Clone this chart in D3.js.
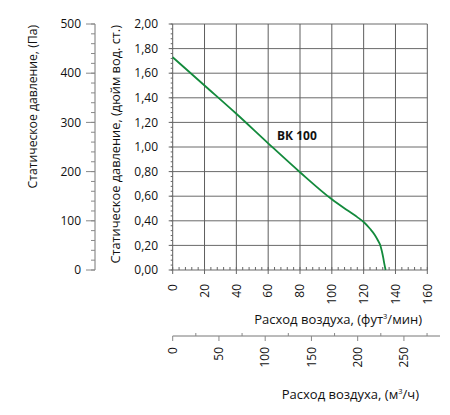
<!DOCTYPE html>
<html>
<head>
<meta charset="utf-8">
<script src="https://cdn.jsdelivr.net/npm/d3@7"></script>
<style>
  body { margin: 0; background: #fff; }
  text { font-family: "Open Sans", "Noto Sans", sans-serif; fill: #111; }
</style>
</head>
<body>
<div id="chart"></div>
<script>
// Curve BK 100: airflow (cfm) vs static pressure (in. wg)
const flowCfm = [0, 20, 40, 60, 80, 100, 110, 116, 120, 124, 127, 129, 130.5, 131.5, 132.3, 133.0, 133.8];
const pressureIn = [1.73, 1.50, 1.27, 1.03, 0.795, 0.575, 0.483, 0.43, 0.39, 0.335, 0.285, 0.24, 0.20, 0.15, 0.10, 0.05, 0.0];

const cfmTicks = [0, 20, 40, 60, 80, 100, 120, 140, 160];
const inchTicks = [0, 0.2, 0.4, 0.6, 0.8, 1.0, 1.2, 1.4, 1.6, 1.8, 2.0];
const paTicks = [0, 100, 200, 300, 400, 500];
const m3hTicks = [0, 50, 100, 150, 200, 250];

const W = 450, H = 415;
const plot = {left: 172.7, right: 427.3, top: 24, bottom: 270};

const svg = d3.select("#chart").append("svg")
  .attr("width", W).attr("height", H);

const x = d3.scaleLinear().domain([0, 160]).range([plot.left, plot.right]);
const y = d3.scaleLinear().domain([0, 2]).range([plot.bottom, plot.top]);
const yPa = d3.scaleLinear().domain([0, 500]).range([plot.bottom, plot.top]);
const xM3 = d3.scaleLinear().domain([0, 289]).range([plot.left, 440]);

const fmtComma = d => d3.format(".2f")(d).replace(".", ",");

// Grid
svg.append("g").selectAll("line")
  .data(inchTicks)
  .enter().append("line")
  .attr("x1", plot.left).attr("x2", plot.right)
  .attr("y1", d => y(d)).attr("y2", d => y(d))
  .attr("stroke", "#6a6a6a").attr("stroke-width", 1);

svg.append("g").selectAll("line")
  .data(cfmTicks)
  .enter().append("line")
  .attr("x1", d => x(d)).attr("x2", d => x(d))
  .attr("y1", plot.top).attr("y2", plot.bottom)
  .attr("stroke", "#5e5e5e").attr("stroke-width", 1);

// Inch axis (left of plot)
const yAxis = svg.append("g");
yAxis.selectAll("line.minor")
  .data(d3.range(0, 2.001, 0.04))
  .enter().append("line")
  .attr("x1", plot.left - 2).attr("x2", plot.left)
  .attr("y1", d => y(d)).attr("y2", d => y(d))
  .attr("stroke", "#666");
yAxis.selectAll("line.major")
  .data(inchTicks)
  .enter().append("line")
  .attr("x1", plot.left - 4).attr("x2", plot.left)
  .attr("y1", d => y(d)).attr("y2", d => y(d))
  .attr("stroke", "#666");
yAxis.selectAll("text")
  .data(inchTicks)
  .enter().append("text")
  .attr("x", 158).attr("y", d => y(d))
  .attr("dy", "0.35em")
  .attr("text-anchor", "end")
  .attr("font-size", 12)
  .text(fmtComma);

// Bottom cfm axis
const xAxis = svg.append("g");
xAxis.selectAll("line.minor")
  .data(d3.range(0, 160.1, 4))
  .enter().append("line")
  .attr("x1", d => x(d)).attr("x2", d => x(d))
  .attr("y1", plot.bottom - 3).attr("y2", plot.bottom)
  .attr("stroke", "#666");
xAxis.selectAll("line.major")
  .data(cfmTicks)
  .enter().append("line")
  .attr("x1", d => x(d)).attr("x2", d => x(d))
  .attr("y1", plot.bottom).attr("y2", plot.bottom + 4)
  .attr("stroke", "#666");
xAxis.selectAll("text")
  .data(cfmTicks)
  .enter().append("text")
  .attr("transform", d => `translate(${x(d)},284) rotate(-90)`)
  .attr("dy", "0.35em")
  .attr("text-anchor", "end")
  .attr("font-size", 12)
  .text(d => d);

// Pa axis
const paAxis = svg.append("g");
paAxis.append("line")
  .attr("x1", 95).attr("x2", 95)
  .attr("y1", plot.top).attr("y2", plot.bottom)
  .attr("stroke", "#777");
paAxis.selectAll("line.minor")
  .data(d3.range(0, 501, 20))
  .enter().append("line")
  .attr("x1", 91).attr("x2", 95)
  .attr("y1", d => yPa(d)).attr("y2", d => yPa(d))
  .attr("stroke", "#888");
paAxis.selectAll("line.major")
  .data(paTicks)
  .enter().append("line")
  .attr("x1", 86).attr("x2", 95)
  .attr("y1", d => yPa(d)).attr("y2", d => yPa(d))
  .attr("stroke", "#888");
paAxis.selectAll("text")
  .data(paTicks)
  .enter().append("text")
  .attr("x", 81).attr("y", d => yPa(d))
  .attr("dy", "0.35em")
  .attr("text-anchor", "end")
  .attr("font-size", 12)
  .text(d => d);

// m3/h axis
const m3Axis = svg.append("g");
const m3y = 336;
m3Axis.append("line")
  .attr("x1", plot.left).attr("x2", 440)
  .attr("y1", m3y).attr("y2", m3y)
  .attr("stroke", "#777");
m3Axis.selectAll("line.minor")
  .data(d3.range(25, 289, 50))
  .enter().append("line")
  .attr("x1", d => xM3(d)).attr("x2", d => xM3(d))
  .attr("y1", m3y - 3).attr("y2", m3y)
  .attr("stroke", "#888");
m3Axis.selectAll("line.major")
  .data(m3hTicks)
  .enter().append("line")
  .attr("x1", d => xM3(d)).attr("x2", d => xM3(d))
  .attr("y1", m3y).attr("y2", m3y + 5)
  .attr("stroke", "#888");
m3Axis.selectAll("text")
  .data(m3hTicks)
  .enter().append("text")
  .attr("transform", d => `translate(${xM3(d)},347) rotate(-90)`)
  .attr("dy", "0.35em")
  .attr("text-anchor", "end")
  .attr("font-size", 12)
  .text(d => d);

// Curve
const pts = flowCfm.map((f, i) => [f, pressureIn[i]]);
svg.append("path")
  .datum(pts)
  .attr("fill", "none")
  .attr("stroke", "#138a3c")
  .attr("stroke-width", 1.8)
  .attr("d", d3.line().x(d => x(d[0])).y(d => y(d[1])).curve(d3.curveMonotoneX));

svg.append("text")
  .attr("x", 277).attr("y", 140)
  .attr("font-size", 12)
  .attr("font-weight", "bold")
  .text("ВК 100");

// Axis titles
svg.append("text")
  .attr("transform", "translate(37,25) rotate(-90)")
  .attr("text-anchor", "end")
  .attr("font-size", 12.2)
  .text("Статическое давление, (Па)");

svg.append("text")
  .attr("transform", "translate(120,25) rotate(-90)")
  .attr("text-anchor", "end")
  .attr("font-size", 12.8)
  .text("Статическое давление, (дюйм вод. ст.)");

const t1 = svg.append("text")
  .attr("x", 422).attr("y", 324)
  .attr("text-anchor", "end")
  .attr("font-size", 13);
t1.append("tspan").text("Расход воздуха, (фут");
t1.append("tspan").attr("font-size", 7.5).attr("dy", -5).text("3");
t1.append("tspan").attr("dy", 5).text("/мин)");

const t2 = svg.append("text")
  .attr("x", 419).attr("y", 399)
  .attr("text-anchor", "end")
  .attr("font-size", 13);
t2.append("tspan").text("Расход воздуха, (м");
t2.append("tspan").attr("font-size", 7.5).attr("dy", -5).text("3");
t2.append("tspan").attr("dy", 5).text("/ч)");
</script>
</body>
</html>
